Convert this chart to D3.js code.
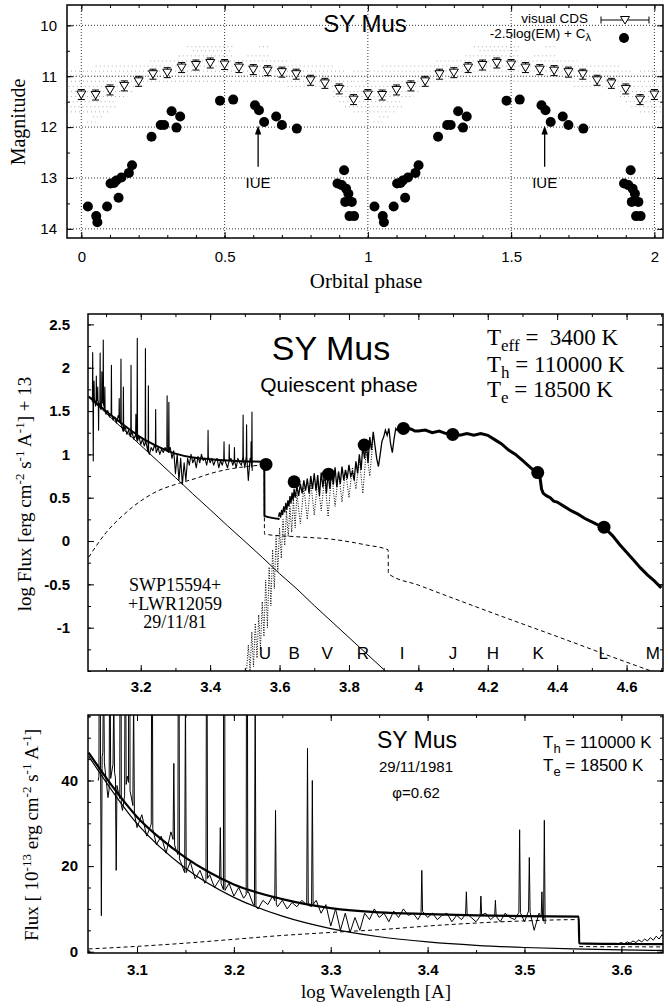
<!DOCTYPE html>
<html lang="en">
<head>
<meta charset="utf-8">
<title>SY Mus</title>
<style>
  body { margin: 0; background: #fff; }
  svg { display: block; font-family: "Liberation Sans", Arial, Helvetica, sans-serif; }
  .serif { font-family: "Liberation Serif", "Times New Roman", Times, serif; }
  .axis path { display: none; }
  .axis line { stroke: #000; stroke-width: 1; }
  .axis text { font-family: "Liberation Sans", Arial, sans-serif; font-size: 15px; fill: #000; }
  .axis.bold text { font-weight: bold; }
  .pre { white-space: pre; }
</style>
</head>
<body>
<div id="chart"></div>
<script src="https://cdnjs.cloudflare.com/ajax/libs/d3/7.8.5/d3.min.js"></script>
<script>

// ---------- top panel: light curve ----------
var cdsPhase = [0, 0.05, 0.1, 0.15, 0.2, 0.25, 0.3, 0.35, 0.4, 0.45, 0.5, 0.55, 0.6, 0.65, 0.7, 0.75, 0.8, 0.85, 0.9, 0.95];
var cdsMag = [11.36, 11.37, 11.27, 11.19, 11.10, 10.96, 10.93, 10.83, 10.78, 10.74, 10.77, 10.83, 10.87, 10.89, 10.92, 10.96, 11.08, 11.14, 11.25, 11.46];

var emPhase = [0.023, 0.052, 0.056, 0.090, 0.102, 0.114, 0.122, 0.130, 0.140, 0.166, 0.177, 0.245, 0.277, 0.289, 0.315, 0.332, 0.345,
               0.484, 0.530, 0.606, 0.620, 0.638, 0.680, 0.700, 0.752, 0.894, 0.909, 0.917, 0.924, 0.932, 0.921, 0.944, 0.936, 0.952];
var emMag = [13.56, 13.75, 13.87, 13.56, 13.11, 13.10, 13.05, 13.39, 12.99, 12.90, 12.75, 12.19, 11.96, 11.96, 11.69, 12.01, 11.79,
             11.48, 11.46, 11.57, 11.67, 11.90, 11.79, 11.96, 12.03, 13.11, 13.14, 12.85, 13.21, 13.31, 13.47, 13.47, 13.75, 13.75];

// rows of individual visual estimates (0.1 mag steps)
var obsFrom = [0.37, 0.62, 0.39, 0.34, 0.58, 0.24, 0.05, -0.05, -0.05, -0.05, -0.10, 0.72, -0.12, -0.12, -0.10, -0.08, -0.05, 0.04, 0.02];
var obsTo   = [0.53, 0.66, 0.53, 0.53, 0.66, 0.73, 0.88, 0.92, 0.95, 0.95, 0.20, 0.92, 0.18, 0.16, 0.12, 0.12, 0.10, 0.08, 0.05];
var obsMag  = [10.42, 10.42, 10.5, 10.6, 10.6, 10.7, 10.8, 10.9, 11.0, 11.1, 11.2, 11.2, 11.3, 11.4, 11.5, 11.6, 11.7, 11.8, 11.9];

var iuePhase = [0.617, 1.617];
var topXTicks = [0, 0.5, 1, 1.5, 2];
var topYTicks = [10, 11, 12, 13, 14];

// ---------- IUE spectrum (flux in 1e-13 erg/cm2/s/A), grid from 3.060 step 0.005 ----------
var iueFlux = [40, 47, 36, 44, 38, 33, 41, 35, 29, 32,
               27, 30, 25, 27, 23, 28, 24, 21, 18, 21,
               17, 19, 16, 18, 15, 17, 14, 16, 13, 15,
               12.5, 14, 11, 10, 12, 11, 13, 10.5, 12, 10,
               11.5, 10.5, 12, 11, 10.5, 12, 9, 11, 6, 10,
               5, 9, 4.5, 8, 5, 9, 7.5, 10, 8, 9,
               7, 9.5, 8, 10, 8.5, 9, 7.5, 9.5, 8, 9,
               7.5, 8.5, 9, 7, 8.5, 7.5, 9, 8, 7, 8.5,
               9, 7.5, 8.5, 7, 9, 8, 7.5, 9.5, 7, 10,
               5, 9, 7];
var iueLineWave = [3.0615, 3.0632, 3.0655, 3.072, 3.076, 3.0785, 3.083, 3.088, 3.092, 3.0965, 3.1155, 3.138, 3.143, 3.150,
                   3.172, 3.186, 3.190, 3.2135, 3.222, 3.243, 3.276, 3.281, 3.394, 3.44, 3.455, 3.47, 3.495, 3.505, 3.518, 3.5205];
var iueLinePeak = [150, 8.4, 70, 80, 60, 19, 148, 90, 209, 60, 107, 44, 126, 60,
                   107, 29, 219, 166, 62, 33, 47.5, 40, 19, 14, 13, 12, 28.5, 22, 14, 30.7];

// model components (flux in 1e-13)
var hotWave = [3.05, 3.10, 3.15, 3.20, 3.25, 3.30, 3.35, 3.40, 3.45, 3.50, 3.55, 3.60, 3.65, 3.70, 3.80, 3.90, 3.95];
var hotFlux = [45.7, 29.9, 19.5, 12.7, 8.3, 5.4, 3.5, 2.3, 1.5, 0.99, 0.65, 0.42, 0.28, 0.18, 0.077, 0.033, 0.021];

var nebWave = [3.05, 3.10, 3.15, 3.20, 3.25, 3.30, 3.36, 3.40, 3.45, 3.50, 3.556, 3.5565, 3.65, 3.75, 3.85, 3.913, 3.9135, 4.0, 4.2, 4.4, 4.64, 4.72];
var nebFlux = [0.65, 1.25, 2.0, 2.9, 3.8, 4.5, 5.3, 6.0, 6.7, 7.2, 7.5, 1.2, 1.12, 1.05, 0.9, 0.79, 0.42, 0.31, 0.155, 0.079, 0.035, 0.027];

var modelWave = [3.05, 3.075, 3.10, 3.125, 3.15, 3.175, 3.20, 3.25, 3.30, 3.35, 3.40, 3.45, 3.50, 3.556, 3.5565, 3.60, 3.643];
var modelFlux = [46.5, 38.5, 31.5, 26.3, 22.0, 18.5, 15.7, 12.3, 10.2, 9.2, 8.8, 8.5, 8.3, 8.2, 1.95, 1.8, 1.75];

// optical/IR spectrum (log flux + 13)
var optWave = [3.597, 3.600, 3.603, 3.606, 3.609, 3.612, 3.615, 3.618, 3.621, 3.624, 3.627, 3.630, 3.633, 3.636, 3.639, 3.642, 3.645,
               3.650, 3.655, 3.660, 3.665, 3.670, 3.675, 3.680, 3.685, 3.690, 3.695, 3.700, 3.705, 3.710, 3.715, 3.720, 3.725,
               3.730, 3.735, 3.740, 3.745, 3.750, 3.755, 3.760, 3.765, 3.770, 3.775, 3.780, 3.785, 3.790, 3.795, 3.800, 3.805,
               3.810, 3.815, 3.820, 3.825, 3.830, 3.835, 3.840, 3.845, 3.850, 3.855, 3.860, 3.865, 3.870, 3.875, 3.880, 3.885,
               3.890, 3.895, 3.900, 3.905, 3.910, 3.915, 3.920, 3.925, 3.930, 3.935, 3.940];
var optLogF = [0.28, 0.33, 0.27, 0.36, 0.30, 0.40, 0.33, 0.44, 0.36, 0.47, 0.40, 0.52, 0.43, 0.56, 0.47, 0.60, 0.50,
               0.63, 0.52, 0.66, 0.55, 0.70, 0.58, 0.72, 0.55, 0.75, 0.60, 0.78, 0.58, 0.76, 0.52, 0.79, 0.62,
               0.80, 0.55, 0.78, 0.60, 0.82, 0.65, 0.85, 0.62, 0.80, 0.66, 0.86, 0.70, 0.82, 0.72, 0.88, 0.75,
               0.80, 0.70, 0.92, 0.78, 1.00, 0.82, 1.10, 0.95, 1.15, 0.90, 1.20, 1.05, 1.26, 1.10, 0.95, 0.86,
               1.00, 1.15, 1.20, 1.28, 1.22, 1.30, 1.12, 1.02, 1.18, 1.30, 1.27];
var irWave = [3.940, 3.950, 3.960, 3.970, 3.980, 3.990, 4.000, 4.020, 4.040, 4.060, 4.080, 4.100, 4.120, 4.140, 4.160, 4.180,
              4.200, 4.220, 4.240, 4.260, 4.280, 4.300, 4.320, 4.340, 4.350, 4.355, 4.360, 4.370, 4.380, 4.390, 4.400, 4.420,
              4.440, 4.460, 4.480, 4.500, 4.520, 4.540, 4.560, 4.580, 4.600, 4.620, 4.640, 4.660, 4.680, 4.700];
var irLogF = [1.27, 1.31, 1.28, 1.30, 1.29, 1.27, 1.27, 1.28, 1.25, 1.27, 1.24, 1.24, 1.22, 1.24, 1.22, 1.24,
              1.22, 1.17, 1.12, 1.05, 1.00, 0.93, 0.86, 0.79, 0.75, 0.60, 0.55, 0.52, 0.50, 0.46, 0.45, 0.40,
              0.35, 0.31, 0.26, 0.22, 0.18, 0.14, 0.06, -0.04, -0.13, -0.22, -0.31, -0.39, -0.46, -0.54];

// M giant model (log flux + 13)
var giantWave = [3.505, 3.510, 3.515, 3.520, 3.525, 3.530, 3.535, 3.540, 3.545, 3.550, 3.555, 3.560, 3.565, 3.570, 3.575,
                 3.580, 3.585, 3.590, 3.595, 3.600, 3.605, 3.610, 3.615, 3.620, 3.625, 3.630, 3.635, 3.640, 3.645, 3.650,
                 3.660, 3.670, 3.680, 3.690, 3.700, 3.710, 3.720, 3.730, 3.740, 3.750, 3.760, 3.770, 3.780, 3.790, 3.800,
                 3.810, 3.820, 3.830, 3.840, 3.850, 3.860, 3.870];
var giantLogF = [-1.50, -1.20, -1.50, -1.05, -1.45, -0.95, -1.35, -0.85, -1.25, -0.70, -1.10, -0.45, -1.00, -0.30, -0.75,
                 -0.10, -0.55, 0.05, -0.35, 0.15, -0.20, 0.25, -0.05, 0.35, 0.05, 0.40, 0.10, 0.48, 0.15, 0.55,
                 0.20, 0.62, 0.25, 0.68, 0.30, 0.70, 0.35, 0.74, 0.28, 0.78, 0.40, 0.80, 0.45, 0.82, 0.50,
                 0.85, 0.60, 0.95, 0.55, 1.05, 0.75, 1.20];

// broad-band photometry
var photWave = [3.561, 3.642, 3.741, 3.844, 3.957, 4.099, 4.344, 4.535];
var photLogF = [0.884, 0.683, 0.772, 1.108, 1.30, 1.23, 0.79, 0.16];
var bandName = ["U", "B", "V", "R", "I", "J", "H", "K", "L", "M"];
var bandWave = [3.558, 3.642, 3.737, 3.840, 3.953, 4.100, 4.215, 4.345, 4.533, 4.676];

var midXTicks = [3.2, 3.4, 3.6, 3.8, 4, 4.2, 4.4, 4.6];
var midYTicks = [-1, -0.5, 0, 0.5, 1, 1.5, 2, 2.5];
var botXTicks = [3.1, 3.2, 3.3, 3.4, 3.5, 3.6];
var botYTicks = [0, 20, 40];

// ---------- scales ----------
var tx = d3.scaleLinear().domain([-0.05, 2.03]).range([67, 663]);
var ty = d3.scaleLinear().domain([9.6, 14.18]).range([5, 238]);
var mx = d3.scaleLinear().domain([3.048, 4.705]).range([88, 663]);
var my = d3.scaleLinear().domain([-1.5, 2.62]).range([671, 314]);
var bx = d3.scaleLinear().domain([3.0494, 3.643]).range([88, 663]);
var by = d3.scaleLinear().domain([-0.3, 55.3]).range([953, 715]);

var svg = d3.select("#chart").append("svg").attr("width", 668).attr("height", 1008);

function steps(a, b, s) {
  return d3.range(a, b + s / 2, s).map(function (v) { return +v.toFixed(4); });
}

function box(x, y) {
  var xr = x.range(), yr = y.range();
  return { l: Math.min(xr[0], xr[1]), r: Math.max(xr[0], xr[1]), t: Math.min(yr[0], yr[1]), b: Math.max(yr[0], yr[1]) };
}

function plotArea(id, x, y) {
  var b = box(x, y);
  svg.append("clipPath").attr("id", id).append("rect")
    .attr("x", b.l).attr("y", b.t).attr("width", b.r - b.l).attr("height", b.b - b.t);
  return svg.append("g").attr("clip-path", "url(#" + id + ")");
}

function drawFrame(x, y, o) {
  var b = box(x, y);
  var g = svg.append("g");
  function ax(axis, px, py, vals, size, pad, fmt, cls) {
    g.append("g").attr("class", "axis " + (cls || ""))
      .attr("transform", "translate(" + px + "," + py + ")")
      .call(axis.tickValues(vals).tickSize(size).tickSizeOuter(0).tickPadding(pad || 0)
        .tickFormat(fmt || function () { return ""; }));
  }
  ax(d3.axisBottom(x), 0, b.b, o.xMinor, -3);
  ax(d3.axisTop(x), 0, b.t, o.xMinor, -3);
  ax(d3.axisLeft(y), b.l, 0, o.yMinor, -3);
  ax(d3.axisRight(y), b.r, 0, o.yMinor, -3);
  ax(d3.axisBottom(x), 0, b.b, o.xTicks, -6, o.xPad, String, o.cls);
  ax(d3.axisTop(x), 0, b.t, o.xTicks, -6);
  ax(d3.axisLeft(y), b.l, 0, o.yTicks, -6, o.yPad, String, o.cls);
  ax(d3.axisRight(y), b.r, 0, o.yTicks, -6);
  g.append("rect").attr("x", b.l).attr("y", b.t).attr("width", b.r - b.l).attr("height", b.b - b.t)
    .attr("fill", "none").attr("stroke", "#000").attr("stroke-width", 1.5);
}

function rich(t, parts, small) {
  var cur = 0;
  parts.forEach(function (p) {
    var s = p[1] || 0;
    t.append("tspan").attr("dy", s - cur).attr("font-size", s ? small : null).text(p[0]);
    cur = s;
  });
}

function pairs(xs, ys) { return xs.map(function (v, i) { return [v, ys[i]]; }); }

// =============== TOP PANEL ===============
var topG = plotArea("clipTop", tx, ty);

// dotted grid
topXTicks.forEach(function (v) {
  topG.append("line").attr("x1", tx(v)).attr("x2", tx(v)).attr("y1", 5).attr("y2", 238)
    .attr("stroke", "#000").attr("stroke-width", 0.8).attr("stroke-dasharray", "1,2");
});
topYTicks.forEach(function (v) {
  topG.append("line").attr("x1", 67).attr("x2", 663).attr("y1", ty(v)).attr("y2", ty(v))
    .attr("stroke", "#000").attr("stroke-width", 0.8).attr("stroke-dasharray", "1,2");
});

// faint visual estimates
[0, 1, 2].forEach(function (k) {
  obsMag.forEach(function (m, i) {
    topG.append("line")
      .attr("x1", tx(obsFrom[i] + k)).attr("x2", tx(obsTo[i] + k))
      .attr("y1", ty(m)).attr("y2", ty(m))
      .attr("stroke", "#999").attr("stroke-width", 0.8).attr("stroke-dasharray", "1,3");
  });
});

// emission measure points
[0, 1].forEach(function (k) {
  topG.selectAll(null).data(pairs(emPhase, emMag)).enter().append("circle")
    .attr("cx", function (d) { return tx(d[0] + k); })
    .attr("cy", function (d) { return ty(d[1]); })
    .attr("r", 5).attr("fill", "#000");
});

// CDS means with error bars
var cds = [];
[0, 1, 2].forEach(function (k) {
  cdsPhase.forEach(function (p, i) { if (p + k <= 2.001) cds.push([p + k, cdsMag[i]]); });
});
var cg = topG.selectAll(null).data(cds).enter().append("g")
  .attr("transform", function (d) { return "translate(" + tx(d[0]) + "," + ty(d[1]) + ")"; });
cg.append("line").attr("x1", 0).attr("x2", 0).attr("y1", -5).attr("y2", 5).attr("stroke", "#000");
cg.append("line").attr("x1", -3.5).attr("x2", 3.5).attr("y1", -5).attr("y2", -5).attr("stroke", "#000");
cg.append("line").attr("x1", -3.5).attr("x2", 3.5).attr("y1", 5).attr("y2", 5).attr("stroke", "#000");
cg.append("path").attr("d", "M-4.5,-3.5L4.5,-3.5L0,4Z").attr("fill", "#fff").attr("stroke", "#000").attr("stroke-width", 1);

// IUE arrows
iuePhase.forEach(function (p) {
  var x = tx(p);
  topG.append("line").attr("x1", x).attr("x2", x).attr("y1", ty(12.78)).attr("y2", ty(12.05))
    .attr("stroke", "#000").attr("stroke-width", 1.3);
  topG.append("path").attr("d", "M" + x + "," + ty(11.97) + "l-3.2,9l6.4,0Z").attr("fill", "#000");
  topG.append("text").attr("x", x).attr("y", ty(13.2)).attr("text-anchor", "middle")
    .attr("font-size", 15).text("IUE");
});

drawFrame(tx, ty, {
  xTicks: topXTicks, xMinor: steps(0, 2, 0.1), xPad: 13,
  yTicks: topYTicks, yMinor: steps(10, 14, 0.5), yPad: 10
});

// title + legend
svg.append("text").attr("x", 365).attr("y", 32).attr("text-anchor", "middle").attr("font-size", 24).text("SY Mus");
svg.append("text").attr("x", 588).attr("y", 23).attr("text-anchor", "end").attr("font-size", 13.5).text("visual CDS");
rich(svg.append("text").attr("x", 591).attr("y", 38).attr("text-anchor", "end").attr("font-size", 13.5),
  [["-2.5log(EM) + C"], ["\u03bb", 3]], 11);
var lg = svg.append("g").attr("transform", "translate(625,20)");
lg.append("line").attr("x1", -24).attr("x2", 24).attr("stroke", "#000");
lg.append("line").attr("x1", -24).attr("x2", -24).attr("y1", -3.5).attr("y2", 3.5).attr("stroke", "#000");
lg.append("line").attr("x1", 24).attr("x2", 24).attr("y1", -3.5).attr("y2", 3.5).attr("stroke", "#000");
lg.append("path").attr("d", "M-4.5,-3.5L4.5,-3.5L0,4Z").attr("fill", "#fff").attr("stroke", "#000");
svg.append("circle").attr("cx", 624).attr("cy", 38).attr("r", 5).attr("fill", "#000");

svg.append("text").attr("class", "serif").attr("transform", "translate(25,122) rotate(-90)")
  .attr("text-anchor", "middle").attr("font-size", 20).text("Magnitude");
svg.append("text").attr("class", "serif").attr("x", 366).attr("y", 288)
  .attr("text-anchor", "middle").attr("font-size", 21).text("Orbital phase");

// =============== IUE points with emission lines ===============
var lineHW = 0.0008;
var iueWave = iueFlux.map(function (f, i) { return +(3.06 + i * 0.005).toFixed(3); });
var iueCont = d3.scaleLinear().domain(iueWave).range(iueFlux);
var iuePts = pairs(iueWave, iueFlux).filter(function (p) {
  return !iueLineWave.some(function (l) { return Math.abs(p[0] - l) < lineHW * 1.5; });
});
iueLineWave.forEach(function (w, i) {
  iuePts.push([w - lineHW, iueCont(w - lineHW)], [w, iueLinePeak[i]], [w + lineHW, iueCont(w + lineHW)]);
});
iuePts.sort(function (a, b) { return a[0] - b[0]; });

function toLog(pts) { return pts.map(function (p) { return [p[0], Math.log10(p[1])]; }); }

// =============== MIDDLE PANEL ===============
var midG = plotArea("clipMid", mx, my);
var lineM = d3.line().x(function (d) { return mx(d[0]); }).y(function (d) { return my(d[1]); });
var curveM = d3.line().curve(d3.curveMonotoneX).x(function (d) { return mx(d[0]); }).y(function (d) { return my(d[1]); });

midG.append("path").attr("d", lineM(toLog(pairs(hotWave, hotFlux))))
  .attr("fill", "none").attr("stroke", "#000").attr("stroke-width", 1);
midG.append("path").attr("d", curveM(toLog(pairs(nebWave, nebFlux))))
  .attr("fill", "none").attr("stroke", "#000").attr("stroke-width", 1).attr("stroke-dasharray", "4,3");
midG.append("path").attr("d", lineM(pairs(giantWave, giantLogF)))
  .attr("fill", "none").attr("stroke", "#000").attr("stroke-width", 1).attr("stroke-dasharray", "1,1.5");
midG.append("path").attr("d", lineM(toLog(iuePts)))
  .attr("fill", "none").attr("stroke", "#000").attr("stroke-width", 1.1).attr("stroke-linejoin", "round");
midG.append("path").attr("d", curveM(toLog(pairs(modelWave, modelFlux).filter(function (p) { return p[0] <= 3.6; }))))
  .attr("fill", "none").attr("stroke", "#000").attr("stroke-width", 2);
midG.append("path").attr("d", lineM(pairs(optWave, optLogF)))
  .attr("fill", "none").attr("stroke", "#000").attr("stroke-width", 1.3);
midG.append("path").attr("d", lineM(pairs(irWave, irLogF)))
  .attr("fill", "none").attr("stroke", "#000").attr("stroke-width", 3);
midG.selectAll(null).data(pairs(photWave, photLogF)).enter().append("circle")
  .attr("cx", function (d) { return mx(d[0]); }).attr("cy", function (d) { return my(d[1]); })
  .attr("r", 6.5).attr("fill", "#000");

svg.selectAll(null).data(bandName).enter().append("text")
  .attr("x", function (d, i) { return mx(bandWave[i]); }).attr("y", 659)
  .attr("text-anchor", "middle").attr("font-size", 17).text(function (d) { return d; });

drawFrame(mx, my, {
  xTicks: midXTicks, xMinor: steps(3.1, 4.7, 0.1), xPad: 10,
  yTicks: midYTicks, yMinor: steps(-1.5, 2.5, 0.25), yPad: 18, cls: "bold"
});

svg.append("text").attr("x", 331).attr("y", 360).attr("text-anchor", "middle").attr("font-size", 34).text("SY Mus");
svg.append("text").attr("x", 339).attr("y", 392).attr("text-anchor", "middle").attr("font-size", 21).text("Quiescent phase");

var tLines = [[["T"], ["eff", 6], [" =  3400 K"]], [["T"], ["h", 6], [" = 110000 K"]], [["T"], ["e", 6], [" = 18500 K"]]];
[345, 372, 397].forEach(function (yy, i) {
  rich(svg.append("text").attr("class", "serif pre").attr("x", 487).attr("y", yy).attr("font-size", 23), tLines[i], 17);
});
["SWP15594+", "+LWR12059", "29/11/81"].forEach(function (s, i) {
  svg.append("text").attr("class", "serif").attr("x", 175).attr("y", 591 + i * 18.5)
    .attr("text-anchor", "middle").attr("font-size", 18).text(s);
});
rich(svg.append("text").attr("class", "serif").attr("transform", "translate(31,494) rotate(-90)")
  .attr("text-anchor", "middle").attr("font-size", 19),
  [["log Flux [erg cm"], ["-2", -7], [" s"], ["-1", -7], [" A"], ["-1", -7], ["] + 13"]], 13);

// =============== BOTTOM PANEL ===============
var botG = plotArea("clipBot", bx, by);
var lineB = d3.line().x(function (d) { return bx(d[0]); }).y(function (d) { return by(d[1]); });
var curveB = d3.line().curve(d3.curveMonotoneX).x(function (d) { return bx(d[0]); }).y(function (d) { return by(d[1]); });

botG.append("path").attr("d", curveB(pairs(nebWave, nebFlux)))
  .attr("fill", "none").attr("stroke", "#000").attr("stroke-width", 1).attr("stroke-dasharray", "4,3");
botG.append("path").attr("d", curveB(pairs(hotWave, hotFlux)))
  .attr("fill", "none").attr("stroke", "#000").attr("stroke-width", 1.2);
botG.append("path").attr("d", lineB(iuePts))
  .attr("fill", "none").attr("stroke", "#000").attr("stroke-width", 1).attr("stroke-linejoin", "round");
botG.append("path").attr("d", lineB(pairs(optWave, optLogF.map(function (v) { return Math.pow(10, v); }))))
  .attr("fill", "none").attr("stroke", "#000").attr("stroke-width", 1);
botG.append("path").attr("d", curveB(pairs(modelWave, modelFlux)))
  .attr("fill", "none").attr("stroke", "#000").attr("stroke-width", 2.2);

drawFrame(bx, by, {
  xTicks: botXTicks, xMinor: steps(3.05, 3.6, 0.05), xPad: 11,
  yTicks: botYTicks, yMinor: steps(0, 55, 5), yPad: 10, cls: "bold"
});

svg.append("text").attr("x", 417).attr("y", 748).attr("text-anchor", "middle").attr("font-size", 23).text("SY Mus");
svg.append("text").attr("x", 416).attr("y", 772).attr("text-anchor", "middle").attr("font-size", 15).text("29/11/1981");
svg.append("text").attr("x", 416).attr("y", 798).attr("text-anchor", "middle").attr("font-size", 15).text("\u03c6=0.62");
rich(svg.append("text").attr("x", 543).attr("y", 748).attr("font-size", 17), [["T"], ["h", 5], [" = 110000 K"]], 13);
rich(svg.append("text").attr("x", 543).attr("y", 771).attr("font-size", 17), [["T"], ["e", 5], [" = 18500 K"]], 13);

rich(svg.append("text").attr("class", "serif").attr("transform", "translate(38,835) rotate(-90)")
  .attr("text-anchor", "middle").attr("font-size", 19),
  [["Flux [ 10"], ["-13", -7], [" erg cm"], ["-2", -7], [" s"], ["-1", -7], [" A"], ["-1", -7], ["]"]], 13);
svg.append("text").attr("class", "serif").attr("x", 376).attr("y", 998)
  .attr("text-anchor", "middle").attr("font-size", 19).text("log Wavelength [A]");

</script>
</body>
</html>
